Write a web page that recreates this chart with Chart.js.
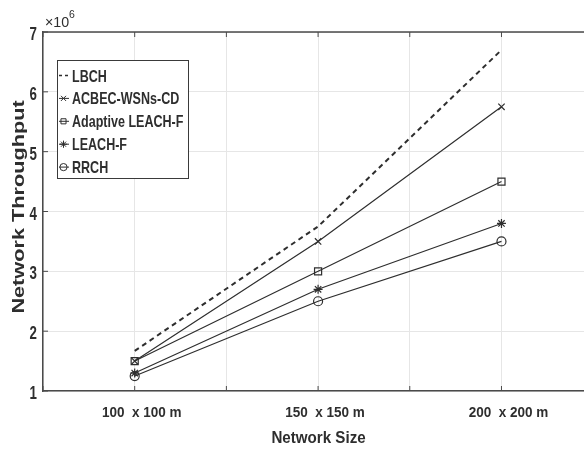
<!DOCTYPE html>
<html>
<head>
<meta charset="utf-8">
<script src="https://cdn.jsdelivr.net/npm/chart.js@4.4.1/dist/chart.umd.min.js"></script>
<style>
  html, body { margin: 0; padding: 0; background: #fff; overflow: hidden; }
  #wrap { width: 584px; height: 451px; }
</style>
</head>
<body>
<div id="wrap"><canvas id="throughputChart"></canvas></div>
<script>
// Network sizes and where they sit on the x axis
const sizeLabels = ["100  x 100 m", "150  x 150 m", "200  x 200 m"];
const sizeSlots = [1, 3, 5];
const xTickSlots = [0, 1, 2, 3, 4, 5];
const yTicks = [1, 2, 3, 4, 5, 6, 7];

// Throughput per protocol, in units of 10^6
const lbch = [1.67, 3.75, 6.7];
const acbecWsnsCd = [1.5, 3.5, 5.75];
const adaptiveLeachF = [1.5, 3.0, 4.5];
const leachF = [1.3, 2.7, 3.8];
const rrch = [1.25, 2.5, 3.5];

const sans = "'Liberation Sans', Arial, sans-serif";
const ink = "#2e2e2e";

function points(values) {
  return sizeSlots.map((x, i) => ({ x: x, y: values[i] }));
}

function series(label, values, pointStyle, extra) {
  return Object.assign({
    label: label,
    data: points(values),
    borderColor: ink,
    backgroundColor: "rgba(0,0,0,0)",
    borderWidth: 1.2,
    pointStyle: pointStyle,
    pointRadius: 4.5,
    pointBorderColor: ink,
    pointBorderWidth: 1.2,
    pointBackgroundColor: "rgba(0,0,0,0)",
    tension: 0,
  }, extra || {});
}

const datasets = [
  series("LBCH", lbch, false, { borderDash: [5, 4], borderWidth: 2, pointRadius: 0 }),
  series("ACBEC-WSNs-CD", acbecWsnsCd, "crossRot"),
  series("Adaptive LEACH-F", adaptiveLeachF, "rect", { pointRadius: 5 }),
  series("LEACH-F", leachF, "star"),
  series("RRCH", rrch, "circle"),
];

// text squeezed sideways, the way the axis fonts come out
function squeezed(ctx, text, x, y, font, sx, align) {
  ctx.save();
  ctx.font = font;
  ctx.textAlign = align || "left";
  ctx.textBaseline = "alphabetic";
  ctx.translate(x, y);
  ctx.scale(sx, 1);
  ctx.fillText(text, 0, 0);
  ctx.restore();
}

// top border, inward tick marks, tick labels, titles and the x10^6 exponent
const framePlugin = {
  id: "frame",
  afterDraw(chart) {
    const { ctx, chartArea: a, scales } = chart;
    ctx.save();
    ctx.strokeStyle = "#4a4a4a";
    ctx.lineWidth = 1.5;
    ctx.beginPath();
    ctx.moveTo(a.left, a.top);
    ctx.lineTo(a.right, a.top);
    ctx.stroke();

    ctx.lineWidth = 1;
    ctx.beginPath();
    xTickSlots.forEach((v) => {
      const px = scales.x.getPixelForValue(v);
      ctx.moveTo(px, a.bottom);
      ctx.lineTo(px, a.bottom - 5);
      ctx.moveTo(px, a.top);
      ctx.lineTo(px, a.top + 5);
    });
    yTicks.forEach((v) => {
      const py = scales.y.getPixelForValue(v);
      ctx.moveTo(a.left, py);
      ctx.lineTo(a.left + 5, py);
    });
    ctx.stroke();

    ctx.fillStyle = ink;
    yTicks.forEach((v) => {
      const py = scales.y.getPixelForValue(v);
      squeezed(ctx, String(v), a.left - 6, py + 8, "bold 17.5px " + sans, 0.76, "right");
    });
    // labels sit a little right of their slot
    sizeSlots.forEach((v, i) => {
      const px = scales.x.getPixelForValue(v);
      squeezed(ctx, sizeLabels[i], px + 7, a.bottom + 26, "bold 15px " + sans, 0.9, "center");
    });
    squeezed(ctx, "Network Size", (a.left + 594) / 2, a.bottom + 52, "bold 16.3px " + sans, 0.93, "center");

    // y title: long along the axis, thin across it
    ctx.save();
    ctx.translate(20, 207);
    ctx.rotate(-Math.PI / 2);
    ctx.scale(1, 0.75);
    ctx.font = "bold 21.7px " + sans;
    ctx.textAlign = "center";
    ctx.textBaseline = "middle";
    ctx.fillText("Network Throughput", 0, 0);
    ctx.restore();

    squeezed(ctx, "\u00d710", a.left + 2, a.top - 5, "15px " + sans, 0.95, "left");
    squeezed(ctx, "6", a.left + 26, a.top - 14, "11px " + sans, 0.95, "left");
    ctx.restore();
  },
};

// boxed legend with a short line sample and marker per series
const legendBox = {
  id: "legendBox",
  afterDraw(chart) {
    const { ctx, chartArea: a } = chart;
    const bx = a.left + 14, by = a.top + 28, bw = 131, bh = 118;
    ctx.save();
    ctx.fillStyle = "#fff";
    ctx.fillRect(bx, by, bw, bh);
    ctx.strokeStyle = "#3a3a3a";
    ctx.lineWidth = 1;
    ctx.strokeRect(bx + 0.5, by + 0.5, bw, bh);

    chart.data.datasets.forEach((ds, i) => {
      const cy = by + 15.5 + i * 22.9;
      ctx.strokeStyle = ink;
      ctx.lineWidth = ds.pointStyle ? 1 : 1.6;
      ctx.setLineDash(ds.borderDash ? [3, 3] : []);
      ctx.beginPath();
      ctx.moveTo(bx + 2, cy);
      ctx.lineTo(bx + 12, cy);
      ctx.stroke();
      ctx.setLineDash([]);
      if (ds.pointStyle) {
        ctx.lineWidth = 1;
        ctx.fillStyle = "rgba(0,0,0,0)";
        Chart.helpers.drawPoint(ctx, { pointStyle: ds.pointStyle, radius: 3.6, rotation: 0, borderWidth: 1 }, bx + 6.5, cy);
      }
      ctx.fillStyle = ink;
      squeezed(ctx, ds.label, bx + 15, cy + 6, "bold 16.3px " + sans, 0.77, "left");
    });
    ctx.restore();
  },
};

new Chart(document.getElementById("throughputChart"), {
  type: "line",
  data: { datasets: datasets },
  options: {
    responsive: true,
    maintainAspectRatio: false,
    animation: false,
    layout: { autoPadding: false, padding: { top: 32, left: 0, right: 0, bottom: 0 } },
    plugins: { legend: { display: false }, tooltip: { enabled: false } },
    scales: {
      x: {
        type: "linear",
        min: 0,
        max: 5.9,
        afterBuildTicks: (scale) => {
          scale.ticks = xTickSlots.map((v) => ({ value: v }));
        },
        afterFit: (scale) => {
          scale.height = 60;
          scale.paddingLeft = 0;
          scale.paddingRight = 0;
        },
        grid: { color: "#e6e6e6", lineWidth: 1, drawTicks: false },
        border: { color: "#4a4a4a", width: 1.5 },
        ticks: { display: false },
      },
      y: {
        min: 1,
        max: 7,
        afterFit: (scale) => {
          scale.width = 43;
          scale.paddingTop = 0;
          scale.paddingBottom = 0;
        },
        grid: { color: "#e6e6e6", lineWidth: 1, drawTicks: false },
        border: { color: "#4a4a4a", width: 1.5 },
        ticks: { display: false, stepSize: 1 },
      },
    },
  },
  plugins: [framePlugin, legendBox],
});
</script>
</body>
</html>
